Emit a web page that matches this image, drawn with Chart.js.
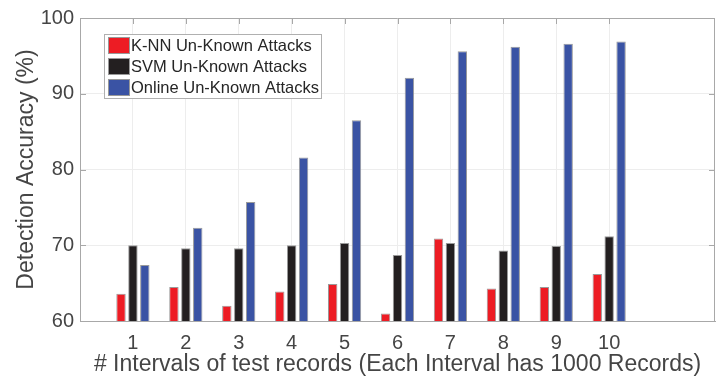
<!DOCTYPE html>
<html>
<head>
<meta charset="utf-8">
<script src="https://cdn.jsdelivr.net/npm/chart.js@4"></script>
<style>
  body { margin: 0; background: #fff; }
  canvas { display: block; }
</style>
</head>
<body>
<canvas id="accChart" width="717" height="378"></canvas>
<script>
// values
const intervals = [1, 2, 3, 4, 5, 6, 7, 8, 9, 10];
const knnAcc    = [63.6, 64.5, 62.0, 63.9, 64.9, 61.0, 70.9, 64.3, 64.5, 66.2];
const svmAcc    = [70.0, 69.6, 69.6, 70.0, 70.3, 68.7, 70.3, 69.3, 69.9, 71.2];
const onlineAcc = [67.4, 72.3, 75.7, 81.6, 86.5, 92.1, 95.6, 96.2, 96.6, 96.9];
const yTicks    = [60, 70, 80, 90, 100];

const FONT = "'Liberation Sans', Arial, sans-serif";
const axisCol = "#a8a8a8";
const textCol = "#454545";

Chart.defaults.font.family = FONT;
Chart.defaults.color = textCol;

const pts = arr => intervals.map((x,i)=>({x:x, y:arr[i]}));

// MATLAB style box, inward ticks and the legend inside the axes
const boxPlugin = {
  id: "box",
  afterDraw(chart) {
    const {ctx, chartArea: a, scales: {x, y}} = chart;
    const tl = 6;
    ctx.save();
    ctx.strokeStyle = axisCol;
    ctx.lineWidth = 1;
    ctx.beginPath();
    ctx.moveTo(a.left, a.top+0.5); ctx.lineTo(a.right, a.top+0.5);
    ctx.moveTo(a.right-0.5, a.top); ctx.lineTo(a.right-0.5, a.bottom);
    x.ticks.forEach(t=>{
      const px = Math.round(x.getPixelForValue(t.value))+0.5;
      ctx.moveTo(px, a.top); ctx.lineTo(px, a.top+tl);
    });
    y.ticks.forEach(t=>{
      const py = Math.round(y.getPixelForValue(t.value))+0.5;
      ctx.moveTo(a.left, py); ctx.lineTo(a.left+tl, py);
      ctx.moveTo(a.right, py); ctx.lineTo(a.right-tl, py);
    });
    ctx.stroke();

    // legend
    const lx = a.left+24, ly = a.top+16, lw = 217, lh = 64;
    ctx.fillStyle = "#fff";
    ctx.fillRect(lx, ly, lw, lh);
    ctx.strokeStyle = "#b0b0b0";
    ctx.strokeRect(lx+0.5, ly+0.5, lw, lh);
    ctx.font = "16.5px " + FONT;
    ctx.textBaseline = "middle";
    chart.data.datasets.forEach((ds,i)=>{
      const cy = ly + 11 + i*21;
      ctx.fillStyle = ds.backgroundColor;
      ctx.fillRect(lx+4, cy-8, 21, 16);
      ctx.strokeStyle = "#999";
      ctx.strokeRect(lx+4.5, cy-7.5, 21, 16);
      ctx.fillStyle = "#262626";
      ctx.fillText(ds.label, lx+27, cy+1);
    });
    ctx.restore();
  }
};

new Chart(document.getElementById("accChart"), {
  type: "bar",
  data: {
    datasets: [
      { label: "K-NN Un-Known Attacks",   data: pts(knnAcc),    backgroundColor: "#ed1c24" },
      { label: "SVM Un-Known Attacks",    data: pts(svmAcc),    backgroundColor: "#231f20" },
      { label: "Online Un-Known Attacks", data: pts(onlineAcc), backgroundColor: "#3a53a4" }
    ]
  },
  options: {
    responsive: false,
    animation: false,
    layout: { padding: { top: 7, right: 2, left: 0, bottom: 0 } },
    datasets: {
      bar: { categoryPercentage: 0.675, barPercentage: 0.79, borderWidth: 1, borderColor: "#9a9a9a" }
    },
    plugins: { legend: { display: false }, tooltip: { enabled: false } },
    scales: {
      x: {
        type: "linear", min: 0, max: 12, offset: false,
        afterBuildTicks: s => { s.ticks = intervals.map(v=>({value:v})); },
        afterFit: s => { s.height = 57; },
        grid: { color: "#ededed", drawTicks: false, offset: false },
        border: { color: axisCol },
        ticks: { font: { size: 20 }, padding: 10, color: textCol },
        title: { display: true, text: "# Intervals of test records (Each Interval has 1000 Records)",
                 font: { size: 23 }, padding: 0, color: textCol }
      },
      y: {
        min: 60, max: 100,
        afterBuildTicks: s => { s.ticks = yTicks.map(v=>({value:v})); },
        afterFit: s => { s.width = 80; },
        grid: { color: "#ededed", drawTicks: false },
        border: { color: axisCol },
        ticks: { font: { size: 20 }, padding: 6, color: textCol },
        title: { display: true, text: "Detection Accuracy (%)",
                 font: { size: 23 }, padding: { top: 13, bottom: 0 }, color: textCol }
      }
    }
  },
  plugins: [boxPlugin]
});
</script>
</body>
</html>
